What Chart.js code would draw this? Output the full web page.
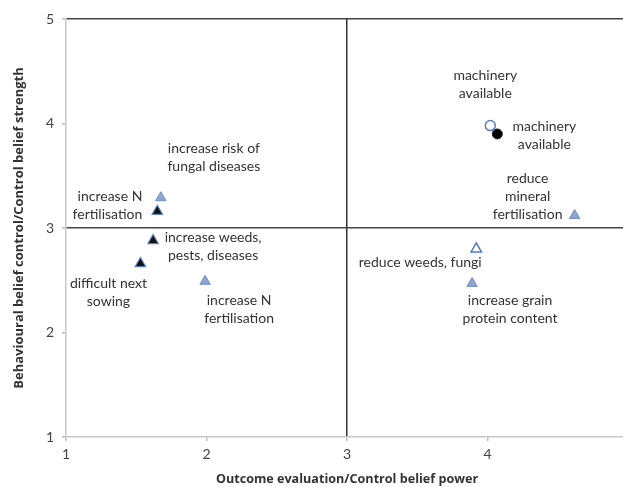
<!DOCTYPE html>
<html lang="en">
<head>
<meta charset="UTF-8">
<title>Beliefs</title>
<script src="https://cdn.jsdelivr.net/npm/chart.js"></script>
<style>
  html, body { margin: 0; padding: 0; background: #fff; overflow: hidden; }
  #wrap { width: 640px; height: 487px; }
</style>
</head>
<body>
<div id="wrap"><canvas id="chart"></canvas></div>
<script>
// data
const xTicks = [1, 2, 3, 4, 5];
const yTicks = [1, 2, 3, 4, 5];

// black triangles
const darkTriX = [1.65, 1.62, 1.53];
const darkTriY = [3.16, 2.88, 2.66];
const darkTriLabels = [["increase N", "fertilisation"], ["increase weeds,", "pests, diseases"], ["difficult next", "sowing"]];

// light blue triangles
const blueTriX = [1.675, 1.99, 4.62, 3.89];
const blueTriY = [3.29, 2.49, 3.12, 2.47];
const blueTriLabels = [["increase risk of", "fungal diseases"], ["increase N", "fertilisation"], ["reduce", "mineral", "fertilisation"], ["increase grain", "protein content"]];

// open triangle
const openTriX = [3.92];
const openTriY = [2.80];
const openTriLabels = [["reduce weeds, fungi"]];

// open circle
const openCircX = [4.02];
const openCircY = [3.98];
const openCircLabels = [["machinery", "available"]];

// black circle
const darkCircX = [4.07];
const darkCircY = [3.90];
const darkCircLabels = [["machinery", "available"]];

// label placement relative to the point (pixels): dx, dy of first line, align
const labelPlace = {
  darkTri: [[-15, -15, 'right'], [60, -3, 'center'], [-32, 20, 'center']],
  blueTri: [[53, -49, 'center'], [34, 19, 'center'], [-47, -37, 'center'], [38, 17, 'center']],
  openTri: [[-56, 14, 'center']],
  openCirc: [[-5, -50, 'center']],
  darkCirc: [[47, -7, 'center']]
};

function pts(xs, ys) {
  return xs.map((x, i) => ({ x: x, y: ys[i] }));
}

const labelPlugin = {
  id: 'pointLabels',
  afterDatasetsDraw(chart) {
    const ctx = chart.ctx;
    ctx.save();
    ctx.font = '14px Lato, "Open Sans", sans-serif';
    ctx.fillStyle = '#333';
    ctx.textBaseline = 'middle';
    chart.data.datasets.forEach((ds, di) => {
      const meta = chart.getDatasetMeta(di);
      meta.data.forEach((el, i) => {
        const p = labelPlace[ds.key][i];
        ctx.textAlign = p[2];
        ds.labels[i].forEach((line, k) => {
          ctx.fillText(line, el.x + p[0], el.y + p[1] + k * 18);
        });
      });
    });
    ctx.restore();
  }
};

new Chart(document.getElementById('chart'), {
  type: 'scatter',
  data: {
    datasets: [
      {
        key: 'blueTri', labels: blueTriLabels,
        data: pts(blueTriX, blueTriY),
        pointStyle: 'triangle', pointRadius: 6,
        backgroundColor: '#8ea6cf', borderColor: '#7090c8', borderWidth: 1
      },
      {
        key: 'darkTri', labels: darkTriLabels,
        data: pts(darkTriX, darkTriY),
        pointStyle: 'triangle', pointRadius: 6,
        backgroundColor: '#111', borderColor: '#5b7fc0', borderWidth: 1.2
      },
      {
        key: 'openTri', labels: openTriLabels,
        data: pts(openTriX, openTriY),
        pointStyle: 'triangle', pointRadius: 6,
        backgroundColor: '#fff', borderColor: '#4f79bf', borderWidth: 1.5
      },
      {
        key: 'openCirc', labels: openCircLabels,
        data: pts(openCircX, openCircY),
        pointStyle: 'circle', pointRadius: 5,
        backgroundColor: '#fff', borderColor: '#5b7fc0', borderWidth: 1.5
      },
      {
        key: 'darkCirc', labels: darkCircLabels,
        data: pts(darkCircX, darkCircY),
        pointStyle: 'circle', pointRadius: 5,
        backgroundColor: '#000', borderColor: '#222', borderWidth: 1
      }
    ]
  },
  options: {
    responsive: true,
    maintainAspectRatio: false,
    animation: false,
    layout: { padding: { top: 19, right: 12, left: 11, bottom: 0 } },
    plugins: { legend: { display: false }, tooltip: { enabled: false } },
    scales: {
      x: {
        type: 'linear', min: 1, max: 5,
        afterBuildTicks: s => { s.ticks = xTicks.map(v => ({ value: v })); },
        afterFit: s => { s.height = 50; },
        border: { color: '#c8c8c8', width: 1.5 },
        grid: {
          color: c => (c.tick && c.tick.value === 3) ? '#333' : 'rgba(0,0,0,0)',
          lineWidth: 1.5, tickColor: '#bbb', tickLength: 4
        },
        ticks: { color: '#444', font: { size: 14, family: 'Lato, sans-serif' }, padding: 5 },
        title: {
          display: true, text: 'Outcome evaluation/Control belief power',
          color: '#333', font: { size: 12.6, weight: 'bold', family: '"Open Sans", sans-serif' },
          padding: { top: 1, bottom: 0 }
        }
      },
      y: {
        type: 'linear', min: 1, max: 5,
        afterBuildTicks: s => { s.ticks = yTicks.map(v => ({ value: v })); },
        afterFit: s => { s.width = 55; },
        border: { color: '#c8c8c8', width: 1.5 },
        grid: {
          color: c => (c.tick && (c.tick.value === 3 || c.tick.value === 5)) ? '#444' : 'rgba(0,0,0,0)',
          lineWidth: 1.5, tickColor: '#bbb', tickLength: 4
        },
        ticks: { color: '#444', font: { size: 14, family: 'Lato, sans-serif' }, padding: 8 },
        title: {
          display: true, text: 'Behavioural belief control/Control belief strength',
          color: '#333', font: { size: 13, weight: 'bold', family: '"Open Sans", sans-serif' },
          padding: { top: 0, bottom: 10 }
        }
      }
    }
  },
  plugins: [labelPlugin]
});
</script>
</body>
</html>
